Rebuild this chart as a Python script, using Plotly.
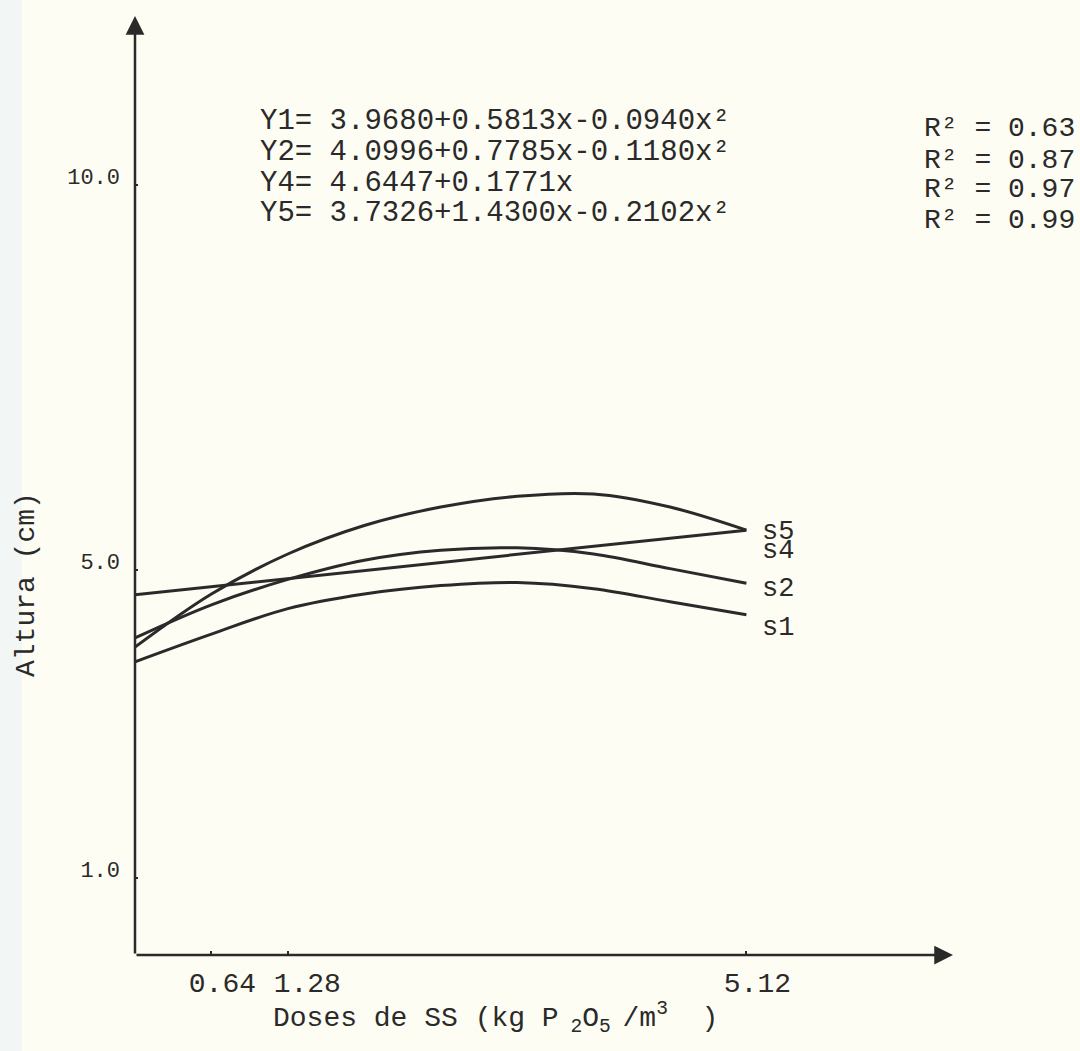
import plotly.graph_objects as go

# ---- data ----
doses = [0, 0.64, 1.28, 1.92, 2.56, 3.20, 3.84, 4.48, 5.12]
s1 = [3.81, 4.17, 4.50, 4.69, 4.80, 4.84, 4.76, 4.59, 4.42]
s2 = [4.12, 4.55, 4.88, 5.13, 5.26, 5.29, 5.21, 5.02, 4.83]
s5 = [4.00, 4.69, 5.21, 5.58, 5.82, 5.96, 5.99, 5.82, 5.52]
s4_x = [0, 5.12]
s4 = [4.68, 5.52]

x_ticks = [0.64, 1.28, 5.12]
x_ticktext = ["0.64", "\u00a01.28", "5.12"]
y_ticks = [1, 5, 10]
y_ticktext = ["1.0", "5.0", "10.0"]

series_names = ["s5", "s4", "s2", "s1"]
label_y = [5.49, 5.25, 4.75, 4.25]

equations = [
    "Y1= 3.9680+0.5813x-0.0940x²",
    "Y2= 4.0996+0.7785x-0.1180x²",
    "Y4= 4.6447+0.1771x",
    "Y5= 3.7326+1.4300x-0.2102x²",
]
r2_texts = ["R² = 0.63", "R² = 0.87", "R² = 0.97", "R² = 0.99"]

x_max = 6.85
y_max = 12.2

# ---- styling ----
INK = "#2a2a2a"
BG = "#fdfdf3"
FONT = "Liberation Mono"

W, H = 1080, 1051
L, R, T, B = 135, 127, 16, 96
pw, ph = W - L - R, H - T - B


def px_x(px):
    return (px - L) / pw


def px_y(py):
    return (H - B - py) / ph


fig = go.Figure()
line_style = dict(color=INK, width=3, shape="spline", smoothing=1.0)
fig.add_trace(go.Scatter(x=doses, y=s5, mode="lines", line=line_style, name="s5", showlegend=False))
fig.add_trace(go.Scatter(x=s4_x, y=s4, mode="lines", line=dict(color=INK, width=3), name="s4", showlegend=False))
fig.add_trace(go.Scatter(x=doses, y=s2, mode="lines", line=line_style, name="s2", showlegend=False))
fig.add_trace(go.Scatter(x=doses, y=s1, mode="lines", line=line_style, name="s1", showlegend=False))

annotations = []
# axis arrows
annotations.append(dict(x=0, y=y_max, ax=0, ay=0, xref="x", yref="y", axref="x", ayref="y",
                        text="", showarrow=True, arrowhead=2, arrowsize=1.5, arrowwidth=2.5,
                        arrowcolor=INK))
annotations.append(dict(x=x_max, y=0, ax=0, ay=0, xref="x", yref="y", axref="x", ayref="y",
                        text="", showarrow=True, arrowhead=2, arrowsize=1.5, arrowwidth=2.5,
                        arrowcolor=INK))

# series labels at line ends
for name, ly in zip(series_names, label_y):
    annotations.append(dict(x=5.12, y=ly, xref="x", yref="y", text=name, showarrow=False,
                            xanchor="left", yanchor="middle", xshift=14,
                            font=dict(family=FONT, size=27, color=INK)))

# equations
eq_centers = [122, 153, 183, 213]
for txt, cy in zip(equations, eq_centers):
    annotations.append(dict(x=px_x(258), y=px_y(cy), xref="paper", yref="paper", text=txt,
                            showarrow=False, xanchor="left", yanchor="middle",
                            font=dict(family=FONT, size=29, color=INK)))
r2_centers = [128, 160, 190, 220]
for txt, cy in zip(r2_texts, r2_centers):
    annotations.append(dict(x=px_x(922), y=px_y(cy), xref="paper", yref="paper", text=txt,
                            showarrow=False, xanchor="left", yanchor="middle",
                            font=dict(family=FONT, size=28, color=INK)))

# axis titles
annotations.append(dict(x=px_x(271), y=px_y(1018), xref="paper", yref="paper",
                        text="Doses de SS (kg P<sub> 2</sub>O<sub>5 </sub>/m<sup>3</sup>  )",
                        showarrow=False, xanchor="left", yanchor="middle",
                        font=dict(family=FONT, size=28, color=INK)))
annotations.append(dict(x=px_x(26), y=px_y(585), xref="paper", yref="paper",
                        text="Altura (cm)", textangle=-90,
                        showarrow=False, xanchor="center", yanchor="middle",
                        font=dict(family=FONT, size=28, color=INK)))

fig.update_layout(
    width=W, height=H,
    margin=dict(l=L, r=R, t=T, b=B, pad=0),
    paper_bgcolor=BG, plot_bgcolor=BG,
    annotations=annotations,
    shapes=[dict(type="rect", xref="paper", yref="paper", x0=px_x(0), x1=px_x(22),
                 y0=px_y(H), y1=px_y(0), fillcolor="rgba(225,238,248,0.4)", line=dict(width=0),
                 layer="below")],
    xaxis=dict(range=[0, x_max], showgrid=False, zeroline=False, showline=False,
               tickvals=x_ticks, ticktext=x_ticktext, ticks="inside", ticklen=4,
               tickwidth=2, tickcolor=INK, ticklabelstandoff=8, ticklabelshift=11,
               tickangle=0,
               tickfont=dict(family=FONT, size=28, color=INK), fixedrange=True),
    yaxis=dict(range=[0, y_max], showgrid=False, zeroline=False, showline=False,
               tickvals=y_ticks, ticktext=y_ticktext, ticks="inside", ticklen=3,
               tickwidth=2, tickcolor=INK, ticklabelstandoff=14, ticklabelshift=-9,
               tickfont=dict(family=FONT, size=22, color=INK), fixedrange=True),
)

fig.write_html("out.html")
